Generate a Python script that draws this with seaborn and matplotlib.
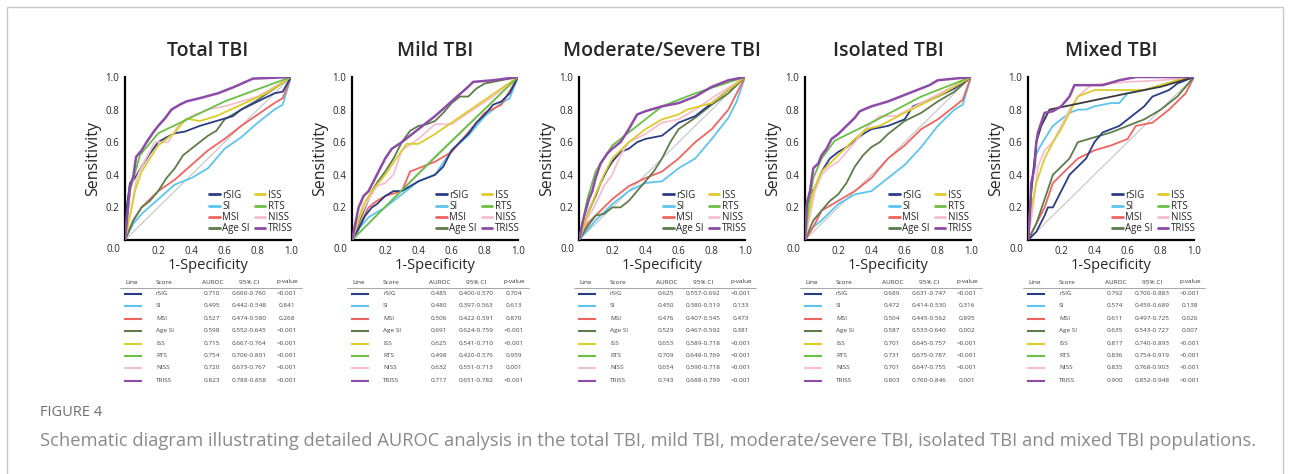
import matplotlib
matplotlib.use("Agg")
import matplotlib.pyplot as plt
import pandas as pd
import seaborn as sns
from matplotlib.lines import Line2D

sns.set_theme(style="white")
plt.rcParams['font.family'] = ['Open Sans', 'DejaVu Sans']

W, H = 1290, 474

scores = ["rSIG", "SI", "MSI", "Age SI", "ISS", "RTS", "NISS", "TRISS"]
colors = ["#2B3C84", "#5EC4EE", "#EF6461", "#5E7B4C", "#DDCB2A", "#6BBF45", "#F6BFD0", "#8B4BA6"]
panel_titles = ["Total TBI", "Mild TBI", "Moderate/Severe TBI", "Isolated TBI", "Mixed TBI"]
x_ticks = [0.2, 0.4, 0.6, 0.8, 1.0]
y_ticks = [0.2, 0.4, 0.6, 0.8, 1.0]

# ---------------- ROC curves (fpr, tpr) ----------------
# Total TBI
total_rsig = [(0,0),(0.01,0.2),(0.03,0.35),(0.06,0.38),(0.1,0.45),(0.15,0.53),(0.2,0.6),(0.25,0.63),(0.3,0.655),(0.36,0.665),(0.45,0.7),(0.55,0.73),(0.65,0.76),(0.7,0.8),(0.8,0.85),(0.9,0.9),(0.95,0.91),(1,1)]
total_si = [(0,0),(0.05,0.1),(0.1,0.16),(0.2,0.25),(0.3,0.34),(0.4,0.38),(0.5,0.44),(0.55,0.5),(0.6,0.56),(0.7,0.63),(0.8,0.72),(0.9,0.8),(0.95,0.83),(1,1)]
total_msi = [(0,0),(0.05,0.12),(0.1,0.2),(0.2,0.3),(0.3,0.37),(0.4,0.46),(0.5,0.55),(0.6,0.62),(0.7,0.7),(0.8,0.77),(0.9,0.84),(0.95,0.87),(1,1)]
total_agesi = [(0,0),(0.05,0.12),(0.1,0.2),(0.15,0.24),(0.2,0.3),(0.25,0.38),(0.3,0.44),(0.35,0.52),(0.4,0.56),(0.5,0.64),(0.55,0.67),(0.6,0.74),(0.7,0.8),(0.8,0.86),(0.9,0.93),(1,1)]
total_iss = [(0,0),(0.03,0.15),(0.06,0.3),(0.1,0.42),(0.2,0.58),(0.3,0.66),(0.37,0.745),(0.45,0.73),(0.55,0.76),(0.7,0.83),(0.85,0.9),(1,1)]
total_rts = [(0,0),(0.03,0.3),(0.09,0.52),(0.2,0.655),(0.6,0.85),(1,1)]
total_niss = [(0,0),(0.04,0.2),(0.07,0.38),(0.1,0.45),(0.18,0.6),(0.26,0.6),(0.32,0.7),(0.4,0.76),(0.5,0.8),(0.6,0.82),(0.8,0.88),(1,1)]
total_triss = [(0,0),(0.01,0.12),(0.03,0.33),(0.05,0.39),(0.067,0.51),(0.1,0.55),(0.13,0.6),(0.17,0.66),(0.2,0.7),(0.24,0.745),(0.28,0.8),(0.33,0.83),(0.37,0.85),(0.45,0.87),(0.56,0.9),(0.66,0.94),(0.77,0.99),(1,1)]

# Mild TBI
mild_rsig = [(0,0),(0.03,0.05),(0.08,0.15),(0.12,0.2),(0.15,0.22),(0.2,0.27),(0.25,0.3),(0.3,0.3),(0.35,0.33),(0.4,0.36),(0.45,0.38),(0.5,0.4),(0.55,0.45),(0.6,0.55),(0.65,0.6),(0.7,0.65),(0.75,0.72),(0.8,0.77),(0.85,0.83),(0.9,0.85),(0.95,0.9),(1,1)]
mild_si = [(0,0),(0.05,0.08),(0.1,0.14),(0.2,0.2),(0.3,0.28),(0.4,0.36),(0.5,0.4),(0.6,0.55),(0.7,0.64),(0.8,0.76),(0.9,0.84),(0.95,0.87),(1,1)]
mild_msi = [(0,0),(0.05,0.1),(0.1,0.2),(0.15,0.24),(0.2,0.27),(0.3,0.3),(0.35,0.42),(0.4,0.44),(0.45,0.46),(0.5,0.48),(0.6,0.54),(0.7,0.66),(0.8,0.78),(0.9,0.83),(1,1)]
mild_agesi = [(0,0),(0.03,0.08),(0.08,0.2),(0.12,0.3),(0.15,0.35),(0.2,0.42),(0.25,0.5),(0.3,0.6),(0.35,0.67),(0.4,0.7),(0.45,0.71),(0.5,0.73),(0.55,0.78),(0.6,0.84),(0.65,0.88),(0.7,0.88),(0.75,0.93),(0.8,0.96),(0.9,0.98),(0.95,0.99),(1,1)]
mild_iss = [(0,0),(0.03,0.1),(0.07,0.22),(0.12,0.3),(0.2,0.4),(0.28,0.52),(0.33,0.59),(0.4,0.59),(0.5,0.65),(0.6,0.72),(0.8,0.86),(1,1)]
mild_rts = [(0,0),(0.03,0.03),(0.5,0.51),(1,1)]
mild_niss = [(0,0),(0.05,0.15),(0.1,0.25),(0.15,0.33),(0.2,0.35),(0.25,0.4),(0.3,0.55),(0.4,0.62),(0.5,0.71),(0.6,0.71),(0.7,0.78),(0.85,0.88),(1,1)]
mild_triss = [(0,0),(0.02,0.1),(0.04,0.2),(0.07,0.27),(0.1,0.3),(0.15,0.4),(0.2,0.5),(0.24,0.56),(0.3,0.6),(0.4,0.68),(0.5,0.76),(0.6,0.85),(0.7,0.94),(0.73,0.97),(0.85,0.98),(1,1)]

# Moderate/Severe TBI
mod_rsig = [(0,0),(0.03,0.08),(0.06,0.18),(0.1,0.27),(0.13,0.35),(0.17,0.43),(0.2,0.48),(0.25,0.54),(0.3,0.56),(0.35,0.6),(0.4,0.62),(0.5,0.64),(0.55,0.68),(0.6,0.72),(0.7,0.76),(0.8,0.84),(0.9,0.92),(1,1)]
mod_si = [(0,0),(0.05,0.06),(0.1,0.12),(0.2,0.22),(0.3,0.3),(0.4,0.35),(0.5,0.36),(0.6,0.44),(0.7,0.5),(0.8,0.62),(0.9,0.75),(0.95,0.85),(1,1)]
mod_msi = [(0,0),(0.05,0.1),(0.1,0.15),(0.2,0.25),(0.3,0.33),(0.4,0.38),(0.5,0.42),(0.6,0.5),(0.7,0.6),(0.8,0.68),(0.9,0.8),(1,1)]
mod_agesi = [(0,0),(0.05,0.08),(0.1,0.15),(0.15,0.16),(0.2,0.2),(0.25,0.2),(0.3,0.24),(0.35,0.3),(0.4,0.36),(0.45,0.42),(0.5,0.5),(0.55,0.6),(0.6,0.68),(0.7,0.75),(0.8,0.83),(0.9,0.9),(1,1)]
mod_iss = [(0,0),(0.05,0.15),(0.1,0.28),(0.15,0.4),(0.2,0.5),(0.25,0.55),(0.3,0.6),(0.4,0.68),(0.5,0.74),(0.6,0.77),(0.65,0.8),(0.8,0.84),(0.9,0.92),(1,1)]
mod_rts = [(0,0),(0.05,0.25),(0.1,0.42),(0.2,0.58),(0.3,0.66),(0.5,0.82),(0.7,0.9),(1,1)]
mod_niss = [(0,0),(0.05,0.13),(0.1,0.22),(0.15,0.33),(0.2,0.4),(0.25,0.52),(0.3,0.6),(0.4,0.65),(0.5,0.72),(0.6,0.74),(0.7,0.8),(0.8,0.87),(1,1)]
mod_triss = [(0,0),(0.02,0.1),(0.04,0.18),(0.06,0.25),(0.08,0.3),(0.1,0.38),(0.13,0.47),(0.17,0.53),(0.2,0.56),(0.25,0.6),(0.3,0.68),(0.35,0.77),(0.4,0.79),(0.5,0.82),(0.6,0.84),(0.7,0.88),(0.8,0.94),(0.9,0.98),(1,1)]

# Isolated TBI
iso_rsig = [(0,0),(0.01,0.2),(0.03,0.28),(0.06,0.32),(0.1,0.42),(0.15,0.5),(0.2,0.54),(0.25,0.57),(0.3,0.61),(0.35,0.65),(0.4,0.68),(0.5,0.7),(0.6,0.74),(0.65,0.82),(0.8,0.88),(0.9,0.93),(1,1)]
iso_si = [(0,0),(0.05,0.08),(0.1,0.12),(0.2,0.22),(0.3,0.28),(0.4,0.3),(0.5,0.38),(0.6,0.46),(0.7,0.57),(0.8,0.7),(0.9,0.8),(0.95,0.83),(1,1)]
iso_msi = [(0,0),(0.05,0.08),(0.1,0.18),(0.2,0.24),(0.3,0.3),(0.4,0.38),(0.5,0.5),(0.6,0.58),(0.7,0.68),(0.8,0.74),(0.9,0.82),(0.95,0.86),(1,1)]
iso_agesi = [(0,0),(0.05,0.12),(0.1,0.18),(0.15,0.24),(0.2,0.28),(0.25,0.35),(0.3,0.45),(0.35,0.52),(0.4,0.57),(0.45,0.6),(0.5,0.65),(0.6,0.73),(0.7,0.78),(0.8,0.85),(0.9,0.91),(1,1)]
iso_iss = [(0,0),(0.02,0.15),(0.05,0.3),(0.1,0.42),(0.2,0.52),(0.3,0.62),(0.37,0.68),(0.45,0.7),(0.6,0.78),(0.8,0.88),(1,1)]
iso_rts = [(0,0),(0.02,0.2),(0.05,0.38),(0.1,0.5),(0.18,0.61),(0.4,0.72),(0.7,0.88),(1,1)]
iso_niss = [(0,0),(0.03,0.15),(0.06,0.3),(0.1,0.4),(0.15,0.45),(0.2,0.48),(0.3,0.6),(0.38,0.7),(0.45,0.76),(0.55,0.76),(0.7,0.84),(0.85,0.92),(1,1)]
iso_triss = [(0,0),(0.01,0.22),(0.03,0.3),(0.05,0.44),(0.08,0.47),(0.1,0.52),(0.13,0.56),(0.16,0.62),(0.2,0.65),(0.3,0.75),(0.33,0.79),(0.4,0.82),(0.5,0.85),(0.6,0.89),(0.7,0.93),(0.75,0.95),(0.8,0.98),(0.9,0.99),(1,1)]

# Mixed TBI
mix_rsig = [(0,0),(0.05,0.05),(0.1,0.15),(0.12,0.2),(0.15,0.2),(0.2,0.3),(0.25,0.4),(0.3,0.45),(0.35,0.5),(0.4,0.6),(0.45,0.66),(0.5,0.68),(0.55,0.7),(0.6,0.74),(0.65,0.78),(0.7,0.82),(0.75,0.88),(0.8,0.9),(0.85,0.92),(0.9,0.96),(1,1)]
mix_si = [(0,0),(0.02,0.3),(0.04,0.5),(0.06,0.55),(0.1,0.62),(0.15,0.7),(0.2,0.74),(0.25,0.78),(0.3,0.8),(0.35,0.8),(0.4,0.82),(0.5,0.84),(0.55,0.84),(0.6,0.9),(0.7,0.92),(0.9,0.98),(1,1)]
mix_msi = [(0,0),(0.05,0.1),(0.1,0.2),(0.15,0.35),(0.2,0.4),(0.3,0.5),(0.4,0.55),(0.5,0.58),(0.6,0.62),(0.65,0.7),(0.75,0.72),(0.85,0.8),(0.95,0.9),(1,1)]
mix_agesi = [(0,0),(0.05,0.1),(0.1,0.25),(0.15,0.4),(0.2,0.45),(0.25,0.5),(0.3,0.6),(0.4,0.63),(0.5,0.66),(0.6,0.7),(0.7,0.74),(0.8,0.8),(0.9,0.88),(1,1)]
mix_iss = [(0,0),(0.02,0.2),(0.05,0.35),(0.1,0.5),(0.15,0.6),(0.2,0.68),(0.25,0.78),(0.3,0.88),(0.4,0.92),(0.7,0.92),(0.9,0.98),(1,1)]
mix_rts = [(0,0),(0.02,0.3),(0.05,0.6),(0.08,0.7),(0.13,0.8),(0.6,0.9),(0.8,0.94),(1,1)]
mix_niss = [(0,0),(0.03,0.2),(0.06,0.45),(0.1,0.55),(0.15,0.6),(0.2,0.7),(0.25,0.8),(0.3,0.88),(0.38,0.95),(0.6,0.97),(0.8,0.98),(1,1)]
mix_triss = [(0,0),(0.01,0.15),(0.02,0.35),(0.04,0.45),(0.05,0.6),(0.06,0.66),(0.08,0.72),(0.1,0.78),(0.15,0.79),(0.2,0.82),(0.25,0.88),(0.28,0.95),(0.45,0.95),(0.55,0.98),(0.65,1.0),(1,1)]

# ---------------- table values ----------------
total_auroc = ["0.710", "0.495", "0.527", "0.598", "0.715", "0.754", "0.720", "0.823"]
total_ci = ["0.660-0.760", "0.442-0.548", "0.474-0.580", "0.552-0.645", "0.667-0.764", "0.706-0.801", "0.673-0.767", "0.788-0.858"]
total_p = ["<0.001", "0.841", "0.268", "<0.001", "<0.001", "<0.001", "<0.001", "<0.001"]

mild_auroc = ["0.485", "0.480", "0.506", "0.691", "0.625", "0.498", "0.632", "0.717"]
mild_ci = ["0.400-0.570", "0.397-0.563", "0.422-0.591", "0.624-0.759", "0.541-0.710", "0.420-0.576", "0.551-0.713", "0.651-0.782"]
mild_p = ["0.704", "0.613", "0.870", "<0.001", "<0.001", "0.959", "0.001", "<0.001"]

mod_auroc = ["0.625", "0.450", "0.476", "0.529", "0.653", "0.709", "0.654", "0.743"]
mod_ci = ["0.557-0.692", "0.380-0.519", "0.407-0.545", "0.467-0.592", "0.589-0.718", "0.648-0.769", "0.590-0.718", "0.688-0.799"]
mod_p = ["<0.001", "0.133", "0.473", "0.381", "<0.001", "<0.001", "<0.001", "<0.001"]

iso_auroc = ["0.689", "0.472", "0.504", "0.587", "0.701", "0.731", "0.701", "0.803"]
iso_ci = ["0.631-0.747", "0.414-0.530", "0.445-0.562", "0.533-0.640", "0.645-0.757", "0.675-0.787", "0.647-0.755", "0.760-0.846"]
iso_p = ["<0.001", "0.316", "0.895", "0.002", "<0.001", "<0.001", "<0.001", "0.001"]

mix_auroc = ["0.792", "0.574", "0.611", "0.635", "0.817", "0.836", "0.835", "0.900"]
mix_ci = ["0.700-0.883", "0.459-0.689", "0.497-0.725", "0.543-0.727", "0.740-0.893", "0.754-0.919", "0.768-0.903", "0.852-0.948"]
mix_p = ["<0.001", "0.138", "0.026", "0.007", "<0.001", "<0.001", "<0.001", "<0.001"]

caption_label = "FIGURE 4"
caption_text = ("Schematic diagram illustrating detailed AUROC analysis in the total TBI, mild TBI, "
                "moderate/severe TBI, isolated TBI and mixed TBI populations.")

panel_curves = [
    [total_rsig, total_si, total_msi, total_agesi, total_iss, total_rts, total_niss, total_triss],
    [mild_rsig, mild_si, mild_msi, mild_agesi, mild_iss, mild_rts, mild_niss, mild_triss],
    [mod_rsig, mod_si, mod_msi, mod_agesi, mod_iss, mod_rts, mod_niss, mod_triss],
    [iso_rsig, iso_si, iso_msi, iso_agesi, iso_iss, iso_rts, iso_niss, iso_triss],
    [mix_rsig, mix_si, mix_msi, mix_agesi, mix_iss, mix_rts, mix_niss, mix_triss],
]
panel_tables = [
    (total_auroc, total_ci, total_p),
    (mild_auroc, mild_ci, mild_p),
    (mod_auroc, mod_ci, mod_p),
    (iso_auroc, iso_ci, iso_p),
    (mix_auroc, mix_ci, mix_p),
]

# ---------------- layout (pixels) ----------------
axes_left = [125, 352, 579, 805, 1028]
ax_w, ax_top, ax_bottom = 166, 77, 240
draw_order = ["SI", "MSI", "Age SI", "rSIG", "NISS", "ISS", "RTS", "TRISS"]

fig = plt.figure(figsize=(W / 100, H / 100), dpi=100)
fig.patch.set_facecolor("white")

overlay = fig.add_axes([0, 0, 1, 1])
overlay.set_xlim(0, W)
overlay.set_ylim(H, 0)
overlay.axis("off")

# figure frame
overlay.plot([7, 7, 1283, 1283], [H + 5, 7, 7, H + 5], color="#C8C8C8", lw=1.0)

for pi, L in enumerate(axes_left):
    ax = fig.add_axes([L / W, (H - ax_bottom) / H, ax_w / W, (ax_bottom - ax_top) / H])
    rows = []
    for s, pts in zip(scores, panel_curves[pi]):
        for (x, y) in pts:
            rows.append({"score": s, "fpr": x, "tpr": y})
    df = pd.DataFrame(rows)
    pal = dict(zip(scores, colors))
    if pi == 4:
        pal["RTS"] = "#3A3A3A"
    ax.plot([0, 1], [0, 1], color="#BDBDBD", lw=0.7, zorder=1)
    for s in draw_order:
        sub = df[df.score == s]
        sns.lineplot(data=sub, x="fpr", y="tpr", color=pal[s], sort=False, estimator=None,
                     lw=1.8 if s == "TRISS" else 1.3, ax=ax, legend=False, zorder=3)
    ax.set_xlim(0, 1)
    ax.set_ylim(0, 1)
    ax.set_xticks(x_ticks)
    ax.set_yticks(y_ticks)
    ax.set_xticklabels([f"{t:.1f}" for t in x_ticks], fontsize=7)
    ax.set_yticklabels([f"{t:.1f}" for t in y_ticks], fontsize=7)
    ax.tick_params(axis="both", length=2, width=0.8, pad=2, color="black", direction="out")
    ax.tick_params(axis="x", bottom=False)
    ax.text(-0.03, -0.025, "0.0", transform=ax.transAxes, ha="right", va="top", fontsize=7)
    for sp in ["top", "right"]:
        ax.spines[sp].set_visible(False)
    for sp in ["left", "bottom"]:
        ax.spines[sp].set_color("black")
        ax.spines[sp].set_linewidth(1.6)
    ax.set_facecolor("white")
    ax.set_xlabel("1-Specificity", fontsize=10.5, labelpad=1)
    ax.set_ylabel("Sensitivity", fontsize=11.5, labelpad=3)
    ax.set_title(panel_titles[pi], fontsize=14, fontweight="semibold", pad=15)
    handles = [Line2D([0], [0], color=c, lw=2) for c in colors]
    ax.legend(handles, scores, ncol=2, loc="lower right", bbox_to_anchor=(1.01, 0.035),
              frameon=False, fontsize=7, handlelength=1.1, columnspacing=0.5,
              labelspacing=0.02, handletextpad=0.25, borderaxespad=0, borderpad=0)

    # table below panel
    auroc, ci, pv = panel_tables[pi]
    fs = 4.6
    hy = 282
    overlay.text(L, hy, "Line", fontsize=fs, ha="left", va="center", color="#333")
    overlay.text(L + 31, hy, "Score", fontsize=fs, ha="left", va="center", color="#333")
    overlay.text(L + 88, hy, "AUROC", fontsize=fs, ha="center", va="center", color="#333")
    overlay.text(L + 124, hy, "95% CI", fontsize=fs, ha="center", va="center", color="#333")
    overlay.text(L + 162, hy, "p-value", fontsize=fs, ha="center", va="center", color="#333")
    overlay.plot([L - 5, L + 177], [288, 288], color="#999999", lw=0.6)
    for i, s in enumerate(scores):
        y = 293.5 + 12.38 * i
        overlay.plot([L - 1, L + 17], [y + 0.5, y + 0.5], color=colors[i], lw=1.5, solid_capstyle="butt")
        overlay.text(L + 31, y, s, fontsize=fs, ha="left", va="center", color="#444")
        overlay.text(L + 95, y, auroc[i], fontsize=fs, ha="right", va="center", color="#444")
        overlay.text(L + 124, y, ci[i], fontsize=fs, ha="center", va="center", color="#444")
        overlay.text(L + 162, y, pv[i], fontsize=fs, ha="center", va="center", color="#444")

overlay.text(40, 413, caption_label, fontsize=10.5, ha="left", va="center", color="#6E6E6E")
overlay.text(40, 441, caption_text, fontsize=13.2, ha="left", va="center", color="#8A8A8A")

fig.savefig("out.png", dpi=100)
